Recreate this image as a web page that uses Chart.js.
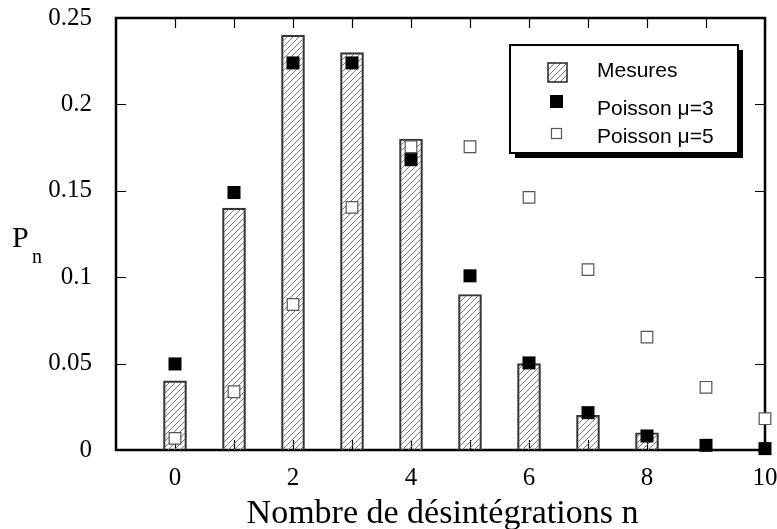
<!DOCTYPE html>
<html>
<head>
<meta charset="utf-8">
<script src="https://cdn.jsdelivr.net/npm/chart.js@4.4.1/dist/chart.umd.min.js"></script>
<style>
  body { margin: 0; background: #fff; }
  #wrap { width: 777px; height: 529px; }
</style>
</head>
<body>
<div id="wrap"><canvas id="chart" width="777" height="529"></canvas></div>
<script>
const nValues = [0, 1, 2, 3, 4, 5, 6, 7, 8, 9, 10];
const mesures = [0.04, 0.14, 0.24, 0.23, 0.18, 0.09, 0.05, 0.02, 0.01, 0, 0];
const poisson3 = [0.0498, 0.149, 0.224, 0.224, 0.168, 0.1008, 0.0504, 0.0216, 0.0081, 0.0027, 0.0008];
const poisson5 = [0.0067, 0.0337, 0.0842, 0.1404, 0.1755, 0.1755, 0.1462, 0.1044, 0.0653, 0.0363, 0.0181];
const yTicks = [0, 0.05, 0.1, 0.15, 0.2, 0.25];
const legendLabels = ["Mesures", "Poisson \u03bc=3", "Poisson \u03bc=5"];

const makeHatch = () => {
  const c = document.createElement("canvas");
  c.width = 6; c.height = 6;
  const g = c.getContext("2d");
  g.strokeStyle = "#7a7a7a";
  g.lineWidth = 1;
  g.beginPath();
  g.moveTo(0, 6); g.lineTo(6, 0);
  g.moveTo(-1, 1); g.lineTo(1, -1);
  g.moveTo(5, 7); g.lineTo(7, 5);
  g.stroke();
  return document.getElementById("chart").getContext("2d").createPattern(c, "repeat");
};
const hatch = makeHatch();

const toPoints = (arr) => nValues.map((n, i) => ({ x: n, y: arr[i] }));

// frame, inward ticks, axis titles, legend
const decorations = {
  id: "decorations",
  beforeDatasetsDraw(chart) {
    const ctx = chart.ctx;
    const a = chart.chartArea;
    const xs = chart.scales.x, ys = chart.scales.y;
    ctx.save();
    ctx.strokeStyle = "#000";
    ctx.lineWidth = 1.2;
    ctx.beginPath();
    nValues.forEach((n) => {
      const px = Math.round(xs.getPixelForValue(n)) + 0.5;
      ctx.moveTo(px, a.top); ctx.lineTo(px, a.top + 10);
      ctx.moveTo(px, a.bottom); ctx.lineTo(px, a.bottom - 10);
    });
    yTicks.forEach((v) => {
      const py = Math.round(ys.getPixelForValue(v)) + 0.5;
      ctx.moveTo(a.left, py); ctx.lineTo(a.left + 10, py);
      ctx.moveTo(a.right, py); ctx.lineTo(a.right - 10, py);
    });
    ctx.stroke();
    ctx.lineWidth = 2.5;
    ctx.strokeRect(a.left, a.top, a.right - a.left, a.bottom - a.top);
    ctx.restore();
  },
  afterDraw(chart) {
    const ctx = chart.ctx;
    const a = chart.chartArea;
    ctx.save();
    ctx.fillStyle = "#000";
    ctx.textAlign = "center";
    ctx.textBaseline = "alphabetic";
    ctx.font = "34px 'Liberation Serif', 'Times New Roman', serif";
    ctx.fillText("Nombre de d\u00e9sint\u00e9grations n", (a.left + a.right) / 2 + 2, 523);
    ctx.textAlign = "left";
    ctx.font = "30px 'Liberation Serif', 'Times New Roman', serif";
    ctx.fillText("P", 12, 247);
    ctx.font = "20px 'Liberation Serif', 'Times New Roman', serif";
    ctx.fillText("n", 32, 263);

    // legend box with shadow
    const bx = 510, by = 45, bw = 228, bh = 108;
    ctx.fillRect(bx + 5, by + 5, bw, bh);
    ctx.fillStyle = "#fff";
    ctx.fillRect(bx, by, bw, bh);
    ctx.strokeStyle = "#000";
    ctx.lineWidth = 2;
    ctx.strokeRect(bx, by, bw, bh);

    ctx.fillStyle = hatch;
    ctx.fillRect(548, 63, 19, 19);
    ctx.strokeStyle = "#222";
    ctx.lineWidth = 1.5;
    ctx.strokeRect(548, 63, 19, 19);
    ctx.fillStyle = "#000";
    ctx.fillRect(550, 95, 13, 13);
    ctx.fillStyle = "#fff";
    ctx.strokeStyle = "#555";
    ctx.lineWidth = 1.2;
    ctx.fillRect(551.5, 128.5, 10, 10);
    ctx.strokeRect(551.5, 128.5, 10, 10);

    ctx.fillStyle = "#000";
    ctx.font = "21px 'Liberation Sans', Arial, sans-serif";
    ctx.fillText(legendLabels[0], 597, 77);
    ctx.fillText(legendLabels[1], 597, 115);
    ctx.fillText(legendLabels[2], 597, 143);
    ctx.restore();
  },
};

new Chart(document.getElementById("chart"), {
  type: "bar",
  data: {
    datasets: [
      {
        type: "scatter",
        label: legendLabels[1],
        data: toPoints(poisson3),
        pointStyle: "rect",
        pointRadius: 9.2,
        backgroundColor: "#000",
        borderColor: "#000",
        borderWidth: 0,
        clip: false,
        order: 1,
      },
      {
        type: "scatter",
        label: legendLabels[2],
        data: toPoints(poisson5),
        pointStyle: "rect",
        pointRadius: 8.2,
        backgroundColor: "#fff",
        borderColor: "#555",
        borderWidth: 1.2,
        clip: false,
        order: 2,
      },
      {
        label: legendLabels[0],
        data: toPoints(mesures),
        backgroundColor: hatch,
        borderColor: "#333",
        borderWidth: 1.5,
        barThickness: 23,
        order: 3,
      },
    ],
  },
  options: {
    responsive: false,
    animation: false,
    layout: { padding: { top: 18, right: 12, left: 0, bottom: 0 } },
    plugins: { legend: { display: false }, tooltip: { enabled: false } },
    scales: {
      x: {
        type: "linear",
        min: -1,
        max: 10,
        offset: false,
        grid: { display: false, offset: false },
        border: { display: false },
        ticks: {
          stepSize: 1,
          autoSkip: false,
          maxRotation: 0,
          padding: 5,
          color: "#000",
          font: { family: "'Liberation Serif', 'Times New Roman', serif", size: 25 },
          callback: (v) => (v >= 0 && v % 2 === 0 ? String(v) : ""),
        },
        afterFit: (scale) => {
          scale.height = 79;
          scale.paddingLeft = 0;
          scale.paddingRight = 0;
        },
      },
      y: {
        min: 0,
        max: 0.25,
        grid: { display: false },
        border: { display: false },
        ticks: {
          stepSize: 0.05,
          padding: 16,
          color: "#000",
          font: { family: "'Liberation Serif', 'Times New Roman', serif", size: 25 },
          callback: (v) => String(Number(v.toFixed(2))),
        },
        afterFit: (scale) => {
          scale.width = 116;
          scale.paddingTop = 0;
          scale.paddingBottom = 0;
        },
      },
    },
  },
  plugins: [decorations],
});
</script>
</body>
</html>
